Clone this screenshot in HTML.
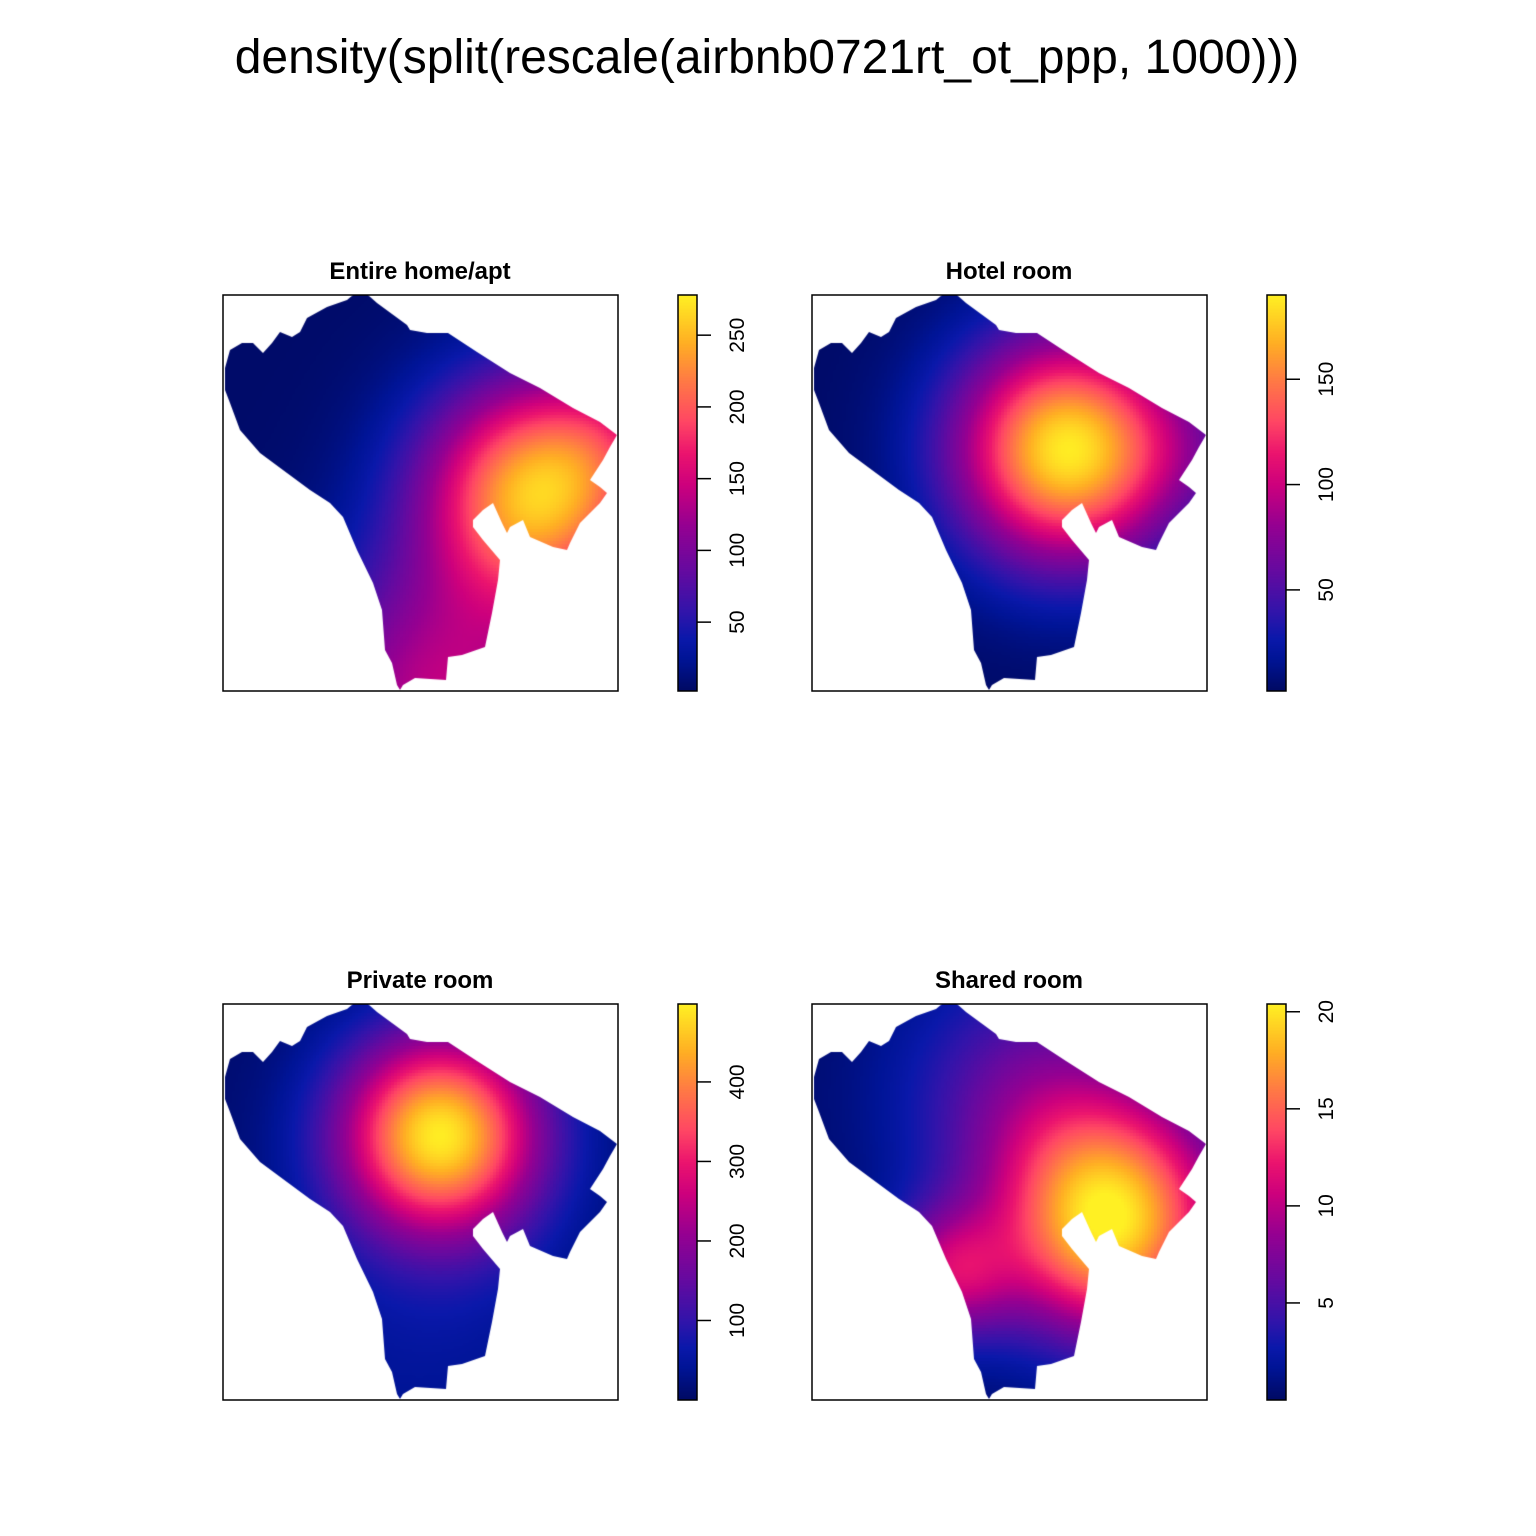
<!DOCTYPE html>
<html><head><meta charset="utf-8"><style>
body{margin:0;background:#fff;}
#wrap{position:relative;width:1536px;height:1536px;overflow:hidden;background:#fff;font-family:"Liberation Sans",Arial,sans-serif;}
canvas{position:absolute;}
svg{position:absolute;left:0;top:0;}
</style></head><body>
<div id="wrap">
<canvas id="c0" width="395" height="396" style="left:223px;top:295px"></canvas>
<canvas id="c1" width="395" height="396" style="left:812px;top:295px"></canvas>
<canvas id="c2" width="395" height="396" style="left:223px;top:1004px"></canvas>
<canvas id="c3" width="395" height="396" style="left:812px;top:1004px"></canvas>
<canvas id="l0" width="19" height="396" style="left:678px;top:295px"></canvas>
<canvas id="l1" width="19" height="396" style="left:1267px;top:295px"></canvas>
<canvas id="l2" width="19" height="396" style="left:678px;top:1004px"></canvas>
<canvas id="l3" width="19" height="396" style="left:1267px;top:1004px"></canvas>
<svg id="s" width="1536" height="1536" xmlns="http://www.w3.org/2000/svg">
<text x="767" y="73" font-size="48" text-anchor="middle" font-family="Liberation Sans, Arial, sans-serif">density(split(rescale(airbnb0721rt_ot_ppp, 1000)))</text>
</svg>
</div>
<script>
// Panel data
const titles = ["Entire home/apt","Hotel room","Private room","Shared room"];
const panelX = [223,812,223,812];
const panelY = [295,295,1004,1004];
const rangeMin = [2,2,0,0];
const rangeMax = [278,190,498,20.4];
const ticks0 = [50,100,150,200,250];
const ticks1 = [50,100,150];
const ticks2 = [100,200,300,400];
const ticks3 = [5,10,15,20];
const ticksAll = [ticks0,ticks1,ticks2,ticks3];
// density kernels (panel-local centres, bandwidth, height) per panel
const base = [4,3,8,0.3];
const kx0 = [314,215,395], ky0 = [200,405,140], ks0 = [80,95,55], ka0 = [245,130,50];
const kx1 = [256,390], ky1 = [155,150], ks1 = [78,50], ka1 = [185,20];
const kx2 = [217,150,250], ky2 = [131,340,300], ks2 = [70,110,90], ka2 = [480,25,20];
const kx3 = [301,138,220,290], ky3 = [209,270,90,260], ks3 = [80,45,90,60], ka3 = [17,9,5.5,3];
const KX=[kx0,kx1,kx2,kx3],KY=[ky0,ky1,ky2,ky3],KS=[ks0,ks1,ks2,ks3],KA=[ka0,ka1,ka2,ka3];
// window outline (panel-local)
const poly = [[130,0],[145,0],[154,8],[184,30],[187,35],[204,38],[225,38],[254,57],[287,78],[317,93],[350,113],[377,127],[394,140],[387,152],[380,165],[367,185],[377,192],[384,198],[377,208],[357,228],[347,248],[344,255],[330,252],[307,242],[300,225],[287,232],[284,238],[279,228],[270,208],[260,215],[250,225],[250,232],[260,245],[277,265],[275,285],[269,318],[262,352],[239,360],[225,362],[223,385],[192,383],[180,390],[177,395],[174,390],[169,368],[162,355],[159,315],[150,288],[134,255],[120,222],[107,208],[87,195],[64,178],[37,158],[17,135],[7,108],[2,95],[2,73],[7,55],[19,48],[30,48],[40,58],[49,48],[57,37],[69,42],[77,37],[84,23],[104,12],[124,5]];
const stops=[[0,[0,10,100]],[0.08,[0,20,150]],[0.13,[10,24,170]],[0.2,[50,20,170]],[0.3,[100,10,160]],[0.42,[150,0,145]],[0.52,[205,0,125]],[0.6,[235,20,110]],[0.68,[255,70,100]],[0.78,[255,120,70]],[0.88,[255,175,35]],[1,[255,240,35]]];
function col(t){t=Math.max(0,Math.min(1,t));for(let i=1;i<stops.length;i++){if(t<=stops[i][0]){const a=stops[i-1],b=stops[i],f=(t-a[0])/(b[0]-a[0]);return 'rgb('+[0,1,2].map(k=>Math.round(a[1][k]+f*(b[1][k]-a[1][k]))).join(',')+')';}}return 'rgb(255,240,35)';}
const NS="http://www.w3.org/2000/svg";const svg=document.getElementById('s');
function mk(tag,attrs,txt){const e=document.createElementNS(NS,tag);for(const k in attrs)e.setAttribute(k,attrs[k]);if(txt!==undefined)e.textContent=txt;svg.appendChild(e);return e;}
for(let p=0;p<4;p++){
  const c=document.getElementById('c'+p).getContext('2d');
  c.save();c.beginPath();poly.forEach((q,i)=>i?c.lineTo(q[0],q[1]):c.moveTo(q[0],q[1]));c.closePath();c.clip();
  const cell=3;
  for(let y=0;y<396;y+=cell)for(let x=0;x<395;x+=cell){
    let v=base[p];const cx=x+1.5,cy=y+1.5;
    for(let k=0;k<KX[p].length;k++){const dx=cx-KX[p][k],dy=cy-KY[p][k];v+=KA[p][k]*Math.exp(-(dx*dx+dy*dy)/(2*KS[p][k]*KS[p][k]));}
    c.fillStyle=col((v-rangeMin[p])/(rangeMax[p]-rangeMin[p]));c.fillRect(x,y,cell,cell);
  }
  c.restore();
  const l=document.getElementById('l'+p).getContext('2d');
  for(let y=0;y<396;y++){l.fillStyle=col(1-y/395);l.fillRect(0,y,19,1);}
  const px=panelX[p],py=panelY[p];
  const r=mk('rect',{x:px,y:py,width:395,height:396,fill:'none',stroke:'#000','stroke-width':1.5});
  
  const t=mk('text',{x:px+197,y:py-16,'font-size':24,'font-weight':'bold','text-anchor':'middle','font-family':'Liberation Sans, Arial, sans-serif'},titles[p]);
  
  const lx=px+455;
  const lb=mk('rect',{x:lx,y:py,width:19,height:396,fill:'none',stroke:'#000','stroke-width':1.5});
  
  ticksAll[p].forEach(v=>{
    const yy=py+396-(v-rangeMin[p])/(rangeMax[p]-rangeMin[p])*396;
    const tk=mk('line',{x1:lx+19,x2:lx+33,y1:yy,y2:yy,stroke:'#000','stroke-width':1.5});
    
    const tl=mk('text',{x:0,y:0,'font-size':21,'text-anchor':'middle','font-family':'Liberation Sans, Arial, sans-serif',transform:'translate('+(lx+66)+','+yy+') rotate(-90)'},String(v));
    
  });
}
</script>
</body></html>
